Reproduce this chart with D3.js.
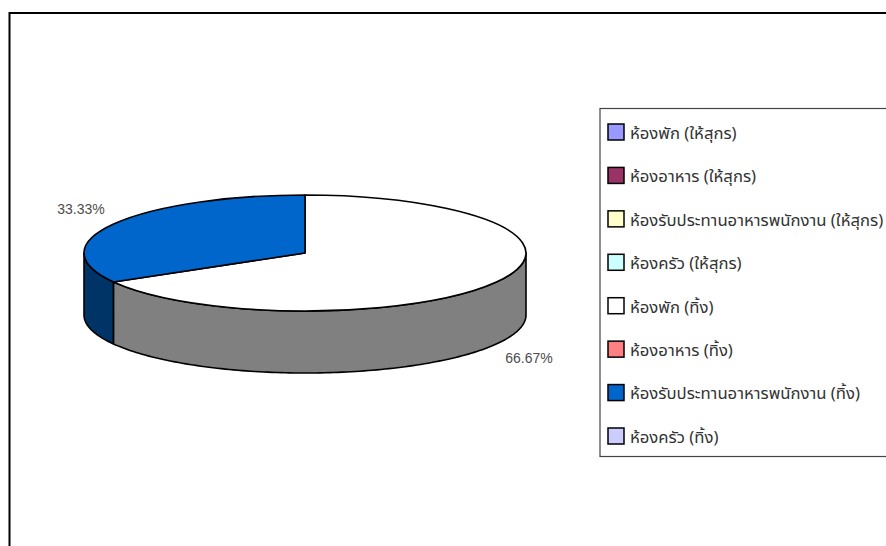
<!DOCTYPE html>
<html>
<head>
<meta charset="utf-8">
<script src="https://cdn.jsdelivr.net/npm/d3@7"></script>
<style>
  html, body { margin: 0; padding: 0; background: #fff; overflow: hidden; }
  svg { display: block; }
</style>
</head>
<body>
<svg id="chart" width="886" height="546"></svg>
<script>
const categories = [
  "ห้องพัก (ให้สุกร)",
  "ห้องอาหาร (ให้สุกร)",
  "ห้องรับประทานอาหารพนักงาน (ให้สุกร)",
  "ห้องครัว (ให้สุกร)",
  "ห้องพัก (ทิ้ง)",
  "ห้องอาหาร (ทิ้ง)",
  "ห้องรับประทานอาหารพนักงาน (ทิ้ง)",
  "ห้องครัว (ทิ้ง)"
];
const shares = [0, 0, 0, 0, 66.67, 0, 33.33, 0];
const topColors = ["#9999ff", "#993366", "#ffffcc", "#ccffff", "#ffffff", "#ff8080", "#0066cc", "#ccccff"];
const sideColors = ["#4d4d80", "#4d1a33", "#808066", "#668080", "#808080", "#804040", "#003366", "#666680"];

const width = 886, height = 546;
const cx = 305, cy = 253, rx = 221, ry = 58, depth = 62;
const labelFont = "'Liberation Sans', Arial, sans-serif";
const legendFont = "'Noto Sans Thai', 'Noto Sans', 'DejaVu Sans', sans-serif";

const svg = d3.select("#chart");

// outer chart frame, runs off the right and bottom of the picture
svg.append("path")
  .attr("d", `M9.5,${height + 5}V13H${width + 5}`)
  .attr("fill", "none")
  .attr("stroke", "#000")
  .attr("stroke-width", 2);

const slices = d3.pie().sort(null).value(d => d)(shares)
  .map((s, i) => ({ ...s, i }))
  .filter(s => s.value > 0);

const px = a => cx + rx * Math.sin(a);
const py = a => cy - ry * Math.cos(a);

// side wall: only the part of a slice facing the viewer (a between 90 and 270 deg)
function sidePath(s) {
  const a0 = Math.max(s.startAngle, Math.PI / 2);
  const a1 = Math.min(s.endAngle, Math.PI * 3 / 2);
  if (a1 <= a0) return null;
  const p = d3.path();
  p.moveTo(px(a0), py(a0));
  const top = d3.range(a0, a1, 0.02).concat(a1);
  top.forEach(a => p.lineTo(px(a), py(a)));
  top.slice().reverse().forEach(a => p.lineTo(px(a), py(a) + depth));
  p.closePath();
  return p.toString();
}

const pie3d = svg.append("g");

// left-hand wall first so that the nearer one overlaps it
pie3d.selectAll("path.side")
  .data(slices.slice().reverse())
  .join("path")
  .attr("class", "side")
  .attr("d", sidePath)
  .attr("fill", d => sideColors[d.i])
  .attr("stroke", "#000")
  .attr("stroke-width", 1.6)
  .attr("stroke-linejoin", "round");

const arc = d3.arc().innerRadius(0).outerRadius(rx);

pie3d.append("g")
  .attr("transform", `translate(${cx},${cy}) scale(1,${ry / rx})`)
  .selectAll("path.top")
  .data(slices)
  .join("path")
  .attr("class", "top")
  .attr("d", arc)
  .attr("fill", d => topColors[d.i])
  .attr("stroke", "#000")
  .attr("stroke-width", 1.6)
  .attr("stroke-linejoin", "round")
  .attr("vector-effect", "non-scaling-stroke");

// percentage labels
const labelX = { 4: 529, 6: 81 };
const labelY = { 4: 358, 6: 209 };
svg.append("g")
  .selectAll("text")
  .data(slices)
  .join("text")
  .attr("x", d => labelX[d.i])
  .attr("y", d => labelY[d.i])
  .attr("dy", "0.35em")
  .attr("text-anchor", "middle")
  .attr("font-family", labelFont)
  .attr("font-size", 14)
  .attr("fill", "#4d4d4d")
  .text(d => d3.format(".2f")(d.value) + "%");

// legend
const legendY = d3.scalePoint()
  .domain(d3.range(categories.length))
  .range([132, 436]);

svg.append("rect")
  .attr("x", 600)
  .attr("y", 108.5)
  .attr("width", 300)
  .attr("height", 348)
  .attr("fill", "#fff")
  .attr("stroke", "#444")
  .attr("stroke-width", 1.2);

const legend = svg.append("g")
  .selectAll("g")
  .data(categories)
  .join("g")
  .attr("transform", (d, i) => `translate(0,${legendY(i)})`);

legend.append("rect")
  .attr("x", 608)
  .attr("y", -8)
  .attr("width", 16)
  .attr("height", 16)
  .attr("fill", (d, i) => topColors[i])
  .attr("stroke", "#000")
  .attr("stroke-width", 1.5);

legend.append("text")
  .attr("x", 630)
  .attr("y", 1)
  .attr("dy", "0.35em")
  .attr("font-family", legendFont)
  .attr("font-size", 16.7)
  .attr("fill", "#333")
  .text(d => d);
</script>
</body>
</html>
